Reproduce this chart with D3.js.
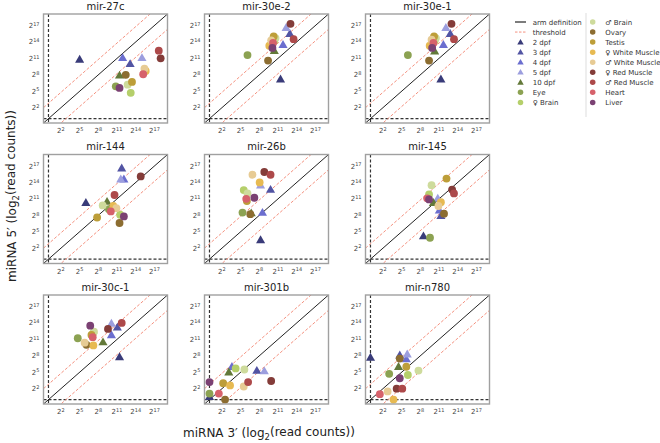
<!DOCTYPE html>
<html><head><meta charset="utf-8">
<script src="https://cdn.jsdelivr.net/npm/d3@7"></script>
<style>
html,body{margin:0;padding:0;background:#fff;}
svg{display:block;font-family:"DejaVu Sans",sans-serif;}
</style></head>
<body>
<svg id="chart" width="660" height="443"></svg>
<script>
// ---- data ----
const seriesNames = ["2 dpf","3 dpf","4 dpf","5 dpf","10 dpf","Eye","♀ Brain","♂ Brain","Ovary","Testis","♀ White Muscle","♂ White Muscle","♀ Red Muscle","♂ Red Muscle","Heart","Liver"];
const seriesShapes = ["tri","tri","tri","tri","tri","dot","dot","dot","dot","dot","dot","dot","dot","dot","dot","dot"];
const seriesColors = ["#393b79","#5254a3","#6b6ecf","#9c9ede","#637939","#8ca252","#b5cf6b","#cedb9c","#8c6d31","#bd9e39","#e7ba52","#e7cb94","#843c39","#ad494a","#d6616b","#7b4173"];
const panelNames = ["mir-27c","mir-30e-2","mir-30e-1","mir-144","mir-26b","mir-145","mir-30c-1","mir-301b","mir-n780"];
const tickValues = [2,5,8,11,14,17];
const thresholdOffset = 2.8;

// log2 read counts, series order as seriesNames; 3' arm (x) and 5' arm (y)
const mir27c_3p  = [5.0,13.1,11.9,15.0,11.4,10.8,13.2,12.7,12.4,13.4,15.6,15.4,18.0,17.7,15.2,11.4];
const mir27c_5p  = [10.8,10.0,11.1,11.1,7.9,5.9,4.7,6.2,8.0,6.7,8.7,9.1,11.0,12.4,8.1,5.6];
const mir30e2_3p = [11.4,12.9,11.8,12.3,10.4,6.1,10.4,10.6,9.4,10.3,9.6,9.9,13.0,13.5,10.2,10.1];
const mir30e2_5p = [7.2,15.5,13.5,16.6,12.4,11.6,14.2,14.7,10.6,15.0,13.3,14.3,17.3,14.5,13.8,12.9];
const mir30e1_3p = [11.3,12.8,11.7,12.1,10.3,6.0,10.3,10.5,9.4,10.2,9.5,9.8,13.0,13.4,10.1,9.9];
const mir30e1_5p = [7.2,15.5,13.5,16.6,12.3,11.6,14.2,14.7,10.6,15.0,13.3,14.4,17.3,14.5,13.8,12.9];
const mir144_3p  = [6.0,11.75,12.1,11.6,9.4,9.7,11.5,8.7,11.4,7.8,10.4,10.9,14.8,10.6,10.0,12.1];
const mir144_5p  = [10.3,16.6,14.6,14.6,10.5,9.1,8.1,9.8,6.6,7.6,9.7,9.3,15.1,11.7,8.7,7.8];
const mir26b_3p  = [8.2,9.8,8.5,8.2,6.7,5.3,5.5,6.1,6.55,6.0,8.05,6.9,8.8,9.8,5.9,7.2];
const mir26b_5p  = [3.5,12.7,8.5,13.5,8.4,8.5,12.6,12.0,8.2,10.6,14.0,15.4,15.9,15.4,11.0,11.2];
const mir145_3p  = [8.5,11.3,11.05,10.8,10.1,9.55,9.4,9.8,11.8,12.2,11.3,10.9,13.1,13.4,9.1,9.4];
const mir145_5p  = [4.2,7.9,8.9,11.1,10.3,3.9,11.8,13.5,8.3,14.7,10.4,9.7,12.7,12.0,11.1,10.9];
const mir30c1_3p = [11.4,11.05,10.1,10.1,8.75,4.7,7.2,7.3,6.1,6.9,7.2,5.8,9.55,11.75,7.1,6.7];
const mir30c1_5p = [7.8,13.2,11.8,13.9,10.5,11.2,12.2,12.4,10.0,11.8,9.9,10.4,12.9,14.0,11.4,13.5];
const mir301b_3p = [0,7.6,3.6,8.8,3.1,0,4.2,5.6,2.5,2.2,3.3,5.5,9.9,6.2,1.5,0];
const mir301b_5p = [0.5,5.3,6.0,5.2,5.0,1.1,5.7,5.5,0.0,3.0,2.6,2.4,3.4,3.2,1.1,3.2];
const mirn780_3p = [0,4.7,5.75,5.9,4.5,3.0,6.0,7.7,4.7,5.75,3.7,2.75,4.2,5.1,1.5,4.7];
const mirn780_5p = [7.7,8.1,7.4,8.3,6.0,4.7,4.5,5.3,7.5,6.0,0,1.5,2.0,2.0,1.0,3.9];

const panelX = [mir27c_3p,mir30e2_3p,mir30e1_3p,mir144_3p,mir26b_3p,mir145_3p,mir30c1_3p,mir301b_3p,mirn780_3p];
const panelY = [mir27c_5p,mir30e2_5p,mir30e1_5p,mir144_5p,mir26b_5p,mir145_5p,mir30c1_5p,mir301b_5p,mirn780_5p];

// ---- layout ----
const svg = d3.select("#chart");
const colLeft = [43.5, 204.5, 365.5];
const rowTop = [14, 154.5, 295];
const W = 124, H = 109;
const domain = [-0.8, 19.1];
const x = d3.scaleLinear().domain(domain).range([0, W]);
const y = d3.scaleLinear().domain(domain).range([H, 0]);
const triSym = d3.symbol().type(d3.symbolTriangle).size(36);
const dotSym = d3.symbol().type(d3.symbolCircle).size(48);

function supLabel(sel, v) {
  sel.text("");
  sel.append("tspan").text("2");
  sel.append("tspan").attr("dy", "-0.45em").attr("font-size", "5px").text(v);
}

const defs = svg.append("defs");
defs.append("clipPath").attr("id","pclip").append("rect").attr("width",W).attr("height",H);

panelNames.forEach((name, i) => {
  const L = colLeft[i % 3], T = rowTop[Math.floor(i / 3)];
  const g = svg.append("g").attr("transform", `translate(${L},${T})`);
  const inner = g.append("g").attr("clip-path", "url(#pclip)");

  // zero (1 read) lines
  inner.append("line").attr("x1", x(0)).attr("x2", x(0)).attr("y1", 0).attr("y2", H)
    .attr("stroke", "#333").attr("stroke-width", 1.2).attr("stroke-dasharray", "3,2");
  inner.append("line").attr("x1", 0).attr("x2", W).attr("y1", y(0)).attr("y2", y(0))
    .attr("stroke", "#333").attr("stroke-width", 1.2).attr("stroke-dasharray", "3,2");
  // thresholds
  [thresholdOffset, -thresholdOffset].forEach(o => {
    inner.append("line")
      .attr("x1", x(domain[0])).attr("y1", y(domain[0] + o))
      .attr("x2", x(domain[1])).attr("y2", y(domain[1] + o))
      .attr("stroke", "#f4917f").attr("stroke-width", 1).attr("stroke-dasharray", "3,1.8");
  });
  // arm definition diagonal
  inner.append("line").attr("x1", x(domain[0])).attr("y1", y(domain[0]))
    .attr("x2", x(domain[1])).attr("y2", y(domain[1]))
    .attr("stroke", "#222").attr("stroke-width", 1);

  // points
  const pts = seriesNames.map((s, k) => ({k, xv: panelX[i][k], yv: panelY[i][k]}));
  inner.selectAll("path.pt").data(pts).enter().append("path")
    .attr("class", "pt")
    .attr("transform", d => `translate(${x(d.xv)},${y(d.yv) + (seriesShapes[d.k] === "tri" ? 0.6 : 0)})`)
    .attr("d", d => seriesShapes[d.k] === "tri" ? triSym() : dotSym())
    .attr("fill", d => seriesColors[d.k]);

  // frame
  g.append("rect").attr("width", W).attr("height", H).attr("fill", "none")
    .attr("stroke", "#a0a0a0").attr("stroke-width", 1.4);

  // ticks
  g.selectAll("text.xt").data(tickValues).enter().append("text").attr("class","xt")
    .attr("x", d => x(d)).attr("y", H + 10).attr("text-anchor", "middle")
    .attr("font-size", "7px").attr("fill", "#444")
    .each(function(d){ supLabel(d3.select(this), d); });
  g.selectAll("text.yt").data(tickValues).enter().append("text").attr("class","yt")
    .attr("x", -4).attr("y", d => y(d) + 2.5).attr("text-anchor", "end")
    .attr("font-size", "7px").attr("fill", "#444")
    .each(function(d){ supLabel(d3.select(this), d); });

  // title
  g.append("text").attr("x", W / 2).attr("y", -4.5).attr("text-anchor", "middle")
    .attr("font-size", "10px").attr("fill", "#222").text(name);
});

// axis labels
function axisLabel(sel, arm) {
  sel.append("tspan").text(`miRNA ${arm}′ (log`);
  sel.append("tspan").attr("font-size", "8.5px").attr("dy", "0.3em").text("2");
  sel.append("tspan").attr("dy", "-0.3em").text("(read counts))");
}
svg.append("text").attr("x", 269).attr("y", 437).attr("text-anchor", "middle")
  .attr("font-size", "12px").attr("fill", "#222").call(axisLabel, "3");
svg.append("text").attr("transform", "translate(16,196) rotate(-90)").attr("text-anchor", "middle")
  .attr("font-size", "12px").attr("fill", "#222").call(axisLabel, "5");

// legend
const leg = svg.append("g").attr("font-size", "7px").attr("fill", "#333");
const rowH = 10.05, leg0 = 22;
leg.append("line").attr("x1", 586).attr("x2", 586).attr("y1", 13).attr("y2", 117)
  .attr("stroke", "#ddd").attr("stroke-width", 1);
leg.append("line").attr("x1", 515).attr("x2", 526).attr("y1", leg0).attr("y2", leg0)
  .attr("stroke", "#444").attr("stroke-width", 1.4);
leg.append("text").attr("x", 532.7).attr("y", leg0 + 2.5).text("arm definition");
leg.append("line").attr("x1", 515).attr("x2", 526).attr("y1", leg0 + rowH).attr("y2", leg0 + rowH)
  .attr("stroke", "#f4917f").attr("stroke-width", 1).attr("stroke-dasharray", "2.5,1.5");
leg.append("text").attr("x", 532.7).attr("y", leg0 + rowH + 2.5).text("threshold");
const legTri = d3.symbol().type(d3.symbolTriangle).size(18);
const legDot = d3.symbol().type(d3.symbolCircle).size(24);
seriesNames.forEach((s, k) => {
  const slot = k + 2;
  const col = slot < 9 ? 0 : 1;
  const row = slot < 9 ? slot : slot - 9;
  const mx = col === 0 ? 520.5 : 592.7;
  const tx = col === 0 ? 532.7 : 605.3;
  const cy = leg0 + row * rowH;
  leg.append("path").attr("transform", `translate(${mx},${cy + (seriesShapes[k]==="tri"?0.5:0)})`)
    .attr("d", seriesShapes[k] === "tri" ? legTri() : legDot()).attr("fill", seriesColors[k]);
  leg.append("text").attr("x", tx).attr("y", cy + 2.5).text(s);
});
</script>
</body></html>
